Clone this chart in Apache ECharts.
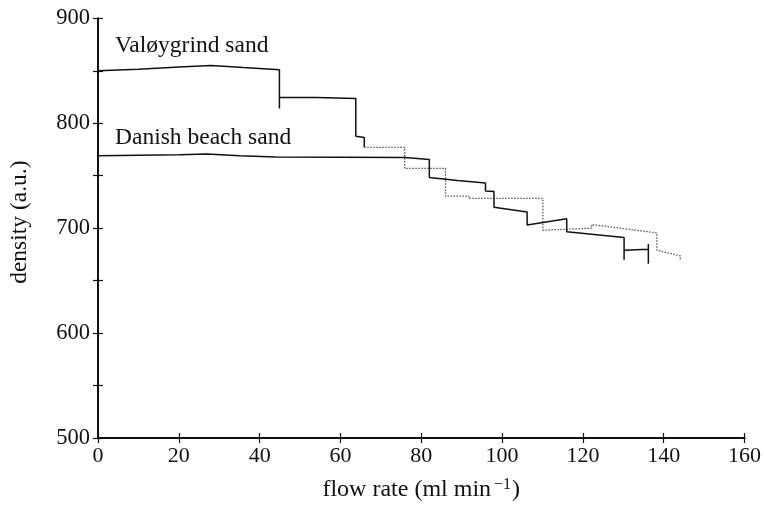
<!DOCTYPE html>
<html>
<head>
<meta charset="utf-8">
<script src="https://cdn.jsdelivr.net/npm/echarts@6/dist/echarts.min.js"></script>
<style>
  html, body { margin: 0; padding: 0; background: #fff; }
  #chart { width: 764px; height: 507px; }
</style>
</head>
<body>
<div id="chart"></div>
<script>
// Measured density against flow rate for two sand types.
// Each array is [flow rate (ml/min), density (a.u.)]; repeated x values form the vertical steps.
const valoygrindSand = [
  [0, 850], [10, 851.5], [20, 853.5], [28, 855], [36, 853], [44.9, 851],
  [44.9, 814], [44.9, 824.5], [54, 824.5], [63.8, 823.6], [63.8, 787.6],
  [65.9, 786.5], [65.9, 777], [75.9, 777], [75.9, 757], [86, 757],
  [86, 730.5], [91.8, 730.5], [91.8, 728.3], [110.1, 728.3], [110.1, 698],
  [116, 699], [122.2, 700], [122.2, 703.5], [138.3, 695.5], [138.3, 679],
  [144.1, 673.6], [144.1, 670]
];
const danishBeachSand = [
  [0, 769], [10, 769.5], [20, 770], [27, 770.7], [35, 769], [44, 767.8],
  [60, 767.5], [76, 767.3], [76, 765.7], [82, 765.5], [82, 748.3],
  [89, 745.5], [95.9, 743], [95.9, 735.5], [98, 735], [98, 720],
  [106.2, 715.5], [106.2, 703], [116, 709], [116, 696.5], [130.2, 691],
  [130.2, 670], [130.2, 679], [136.2, 680], [136.2, 685], [136.2, 666]
];
const seriesNames = ['Valøygrind sand', 'Danish beach sand'];
const xTitle = 'flow rate (ml min';
const xTitleSup = '−1';
const yTitle = 'density (a.u.)';

// The Valøygrind trace is drawn solid at first, then dotted.
const VAL_SPLIT = 12;
const valSolid = valoygrindSand.slice(0, VAL_SPLIT + 1);
const valDotted = valoygrindSand.slice(VAL_SPLIT);

const FONT = '"Liberation Serif", "DejaVu Serif", serif';
const INK = '#111';

const chart = echarts.init(document.getElementById('chart'), null, { renderer: 'canvas' });

const baseX = { type: 'value', min: 0, max: 160, interval: 20 };
const baseY = { type: 'value', min: 500, max: 900, interval: 100 };

chart.setOption({
  backgroundColor: '#fff',
  animation: false,
  grid: { left: 97.7, right: 17.3, top: 18.3, bottom: 68.7 },
  xAxis: [
    Object.assign({}, baseX, {
      position: 'bottom',
      name: '{t|' + xTitle + '}{s|' + xTitleSup + '}{t|)}',
      nameLocation: 'middle',
      nameGap: 39,
      nameTextStyle: {
        rich: {
          t: { fontFamily: FONT, fontSize: 24, color: INK },
          s: { fontFamily: FONT, fontSize: 16, color: INK, verticalAlign: 'top', padding: [0, 1, 10, 3] }
        }
      },
      axisLine: { onZero: false, lineStyle: { color: INK, width: 2 } },
      axisTick: { length: 5, lineStyle: { color: INK, width: 1.2 } },
      axisLabel: { margin: 7, fontFamily: FONT, fontSize: 22, color: INK },
      splitLine: { show: false }
    }),
    Object.assign({}, baseX, {
      position: 'bottom',
      axisLine: { show: false },
      axisTick: { inside: true, length: 5, lineStyle: { color: INK, width: 1.2 } },
      axisLabel: { show: false },
      splitLine: { show: false }
    })
  ],
  yAxis: [
    Object.assign({}, baseY, {
      position: 'left',
      name: yTitle,
      nameLocation: 'middle',
      nameGap: 66,
      nameTextStyle: { fontFamily: FONT, fontSize: 23.5, color: INK, padding: [0, 0, 0, 12] },
      axisLine: { onZero: false, lineStyle: { color: INK, width: 2 } },
      axisTick: { length: 5, lineStyle: { color: INK, width: 1.2 } },
      minorTick: { show: true, splitNumber: 2, length: 5, lineStyle: { color: INK, width: 1.2 } },
      axisLabel: { margin: 8, fontFamily: FONT, fontSize: 22.5, color: INK },
      splitLine: { show: false },
      minorSplitLine: { show: false }
    }),
    Object.assign({}, baseY, {
      position: 'left',
      axisLine: { show: false },
      axisTick: { inside: true, length: 5, lineStyle: { color: INK, width: 1.2 } },
      minorTick: { show: true, splitNumber: 2, length: 5, lineStyle: { color: INK, width: 1.2 } },
      axisLabel: { show: false },
      splitLine: { show: false },
      minorSplitLine: { show: false }
    })
  ],
  series: [
    {
      name: seriesNames[0], type: 'line', data: valSolid,
      showSymbol: false, symbol: 'none', clip: false,
      lineStyle: { color: INK, width: 1.5 }
    },
    {
      name: seriesNames[0], type: 'line', data: valDotted,
      showSymbol: false, symbol: 'none', clip: false,
      lineStyle: { color: '#555', width: 1.3, type: [1.5, 1.5] }
    },
    {
      name: seriesNames[1], type: 'line', data: danishBeachSand,
      showSymbol: false, symbol: 'none', clip: false,
      lineStyle: { color: INK, width: 1.5 }
    }
  ],
  graphic: [
    {
      type: 'text', left: 115, top: 34,
      style: { text: seriesNames[0], fontFamily: FONT, fontSize: 23.5, fill: INK }
    },
    {
      type: 'text', left: 115, top: 126,
      style: { text: seriesNames[1], fontFamily: FONT, fontSize: 23.5, fill: INK }
    }
  ]
});
</script>
</body>
</html>
